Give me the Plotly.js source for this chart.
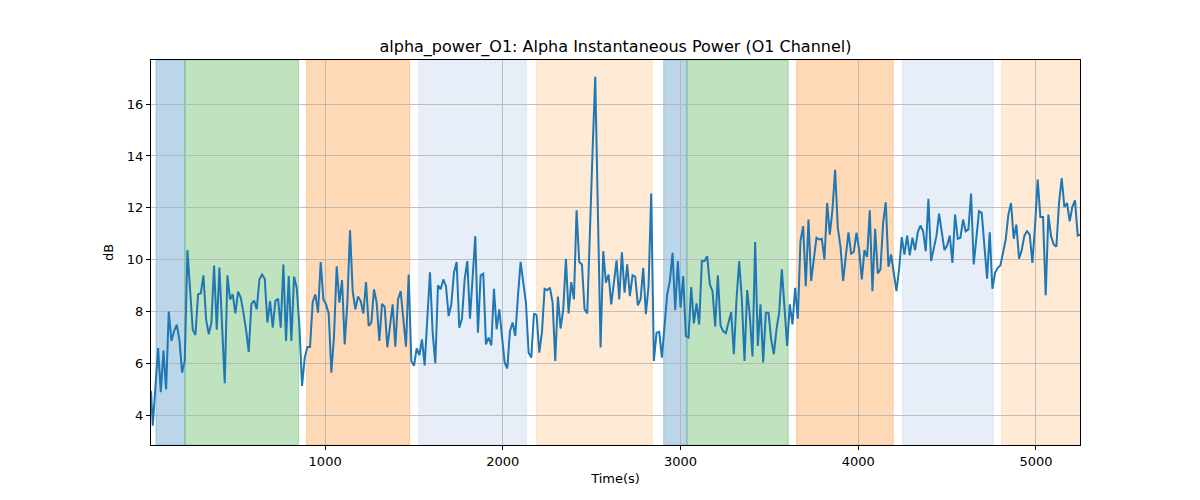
<!DOCTYPE html>
<html>
<head>
<meta charset="utf-8">
<script src="https://cdn.plot.ly/plotly-3.0.1.min.js"></script>
<style>body{margin:0;background:#fff}#chart{width:1200px;height:500px}</style>
</head>
<body>
<div id="chart"></div>
<script>
const timeSec = [20,30,45,60,75,90,105,120,135,150,165,180,195,210,225,240,255,270,285,300,315,330,345,360,375,390,405,420,435,450,465,480,495,510,525,540,555,570,585,600,615,630,645,660,675,690,705,720,735,750,765,780,795,810,825,840,855,870,885,900,915,930,945,960,975,990,1005,1020,1035,1050,1065,1080,1095,1110,1125,1140,1155,1170,1185,1200,1215,1230,1245,1260,1275,1290,1305,1320,1335,1350,1365,1380,1395,1410,1425,1440,1455,1470,1485,1500,1515,1530,1545,1560,1575,1590,1605,1620,1635,1650,1665,1680,1695,1710,1725,1740,1755,1770,1785,1800,1815,1830,1845,1860,1875,1890,1905,1920,1935,1950,1965,1980,1995,2010,2025,2040,2055,2070,2085,2100,2115,2130,2145,2160,2175,2190,2205,2220,2235,2250,2265,2280,2295,2310,2325,2340,2355,2370,2385,2400,2415,2430,2445,2460,2475,2490,2505,2520,2535,2550,2565,2580,2595,2610,2625,2640,2655,2670,2685,2700,2715,2730,2745,2760,2775,2790,2805,2820,2835,2850,2865,2880,2895,2910,2925,2940,2955,2970,2985,3000,3015,3030,3045,3060,3075,3090,3105,3120,3135,3150,3165,3180,3195,3210,3225,3240,3255,3270,3285,3300,3315,3330,3345,3360,3375,3390,3405,3420,3435,3450,3465,3480,3495,3510,3525,3540,3555,3570,3585,3600,3615,3630,3645,3660,3675,3690,3705,3720,3735,3750,3765,3780,3795,3810,3825,3840,3855,3870,3885,3900,3915,3930,3945,3960,3975,3990,4005,4020,4035,4050,4065,4080,4095,4110,4125,4140,4155,4170,4185,4200,4215,4230,4245,4260,4275,4290,4305,4320,4335,4350,4365,4380,4395,4410,4425,4440,4455,4470,4485,4500,4515,4530,4545,4560,4575,4590,4605,4620,4635,4650,4665,4680,4695,4710,4725,4740,4755,4770,4785,4800,4815,4830,4845,4860,4875,4890,4905,4920,4935,4950,4965,4980,4995,5010,5025,5040,5055,5070,5085,5100,5115,5130,5145,5160,5175,5190,5205,5220,5235,5250];

const alphaPowerDb = [4.95,3.6,5.1,6.6,4.9,6.5,5.0,8.0,6.87,7.25,7.5,6.9,5.65,6.1,10.37,8.86,7.3,7.1,8.67,8.7,9.4,7.7,7.13,7.58,9.78,7.3,9.7,7.45,5.24,9.4,8.47,8.67,7.93,8.77,8.54,7.96,7.3,6.45,8.3,8.43,8.09,9.24,9.43,9.27,
7.58,8.41,7.38,8.41,8.5,7.38,9.82,6.87,9.37,6.87,9.35,8.92,7.45,5.14,6.23,6.64,6.64,8.37,8.67,7.96,9.91,8.47,8.28,7.93,5.65,7.06,9.75,8.35,9.22,6.74,8.35,11.14,8.79,8.09,8.58,8.41,7.93,9.14,7.45,7.58,8.86,8.35,6.87,8.3,
8.19,6.62,7.45,8.28,6.65,8.47,8.79,7.7,6.65,9.43,6.1,5.91,6.58,6.32,6.93,5.93,7.58,9.52,7.19,6.01,9.02,8.86,9.24,8.98,7.83,8.28,9.5,9.91,7.38,7.73,9.24,9.95,7.73,9.5,10.91,7.19,9.4,9.46,6.74,7.0,6.7,8.88,7.32,8.09,
7.19,6.04,5.81,7.25,7.58,7.06,8.6,9.92,9.12,8.35,6.42,6.23,7.93,7.86,6.42,7.19,8.88,8.83,8.92,8.35,6.1,8.58,7.35,8.09,10.04,7.93,9.14,8.47,11.91,9.91,9.82,8.09,7.93,11.3,14.2,17.05,11.6,6.62,10.33,9.12,9.43,8.28,9.12,9.98,
8.47,10.29,8.73,9.82,8.6,9.4,9.35,8.24,8.47,9.69,7.9,8.98,12.55,6.1,7.19,7.22,6.23,7.45,8.67,9.18,10.27,8.06,9.95,8.15,9.37,7.06,7.0,8.95,7.55,8.32,7.51,9.95,9.95,10.14,9.05,8.79,7.42,9.4,7.47,7.25,7.17,7.58,7.98,6.36,
8.47,9.95,8.47,6.1,8.83,7.83,6.27,10.68,6.68,8.28,6.04,7.96,7.96,6.93,6.36,7.32,7.96,9.63,8.09,6.68,8.28,7.51,8.92,7.73,10.72,11.29,8.98,11.55,9.18,10.14,10.85,10.78,10.81,10.01,12.19,10.97,11.93,13.47,11.23,10.52,9.18,10.14,11.06,
10.24,10.3,11.04,10.4,9.24,10.37,10.11,11.91,8.79,11.19,9.47,9.63,11.42,12.22,9.73,10.2,9.5,8.79,9.63,10.87,10.2,10.93,10.17,10.85,10.37,11.06,11.32,11.1,10.33,12.35,9.95,10.42,10.91,11.78,11.14,10.37,10.55,10.93,9.88,11.74,10.81,10.85,11.55,11.1,
11.17,12.55,9.82,10.97,11.87,11.81,10.46,9.27,11.06,8.88,9.5,9.69,9.78,10.24,10.78,11.74,12.19,10.81,11.36,10.04,10.37,10.93,11.1,10.97,9.88,11.3,13.09,11.65,11.65,8.63,11.74,10.91,10.59,10.5,12.19,13.15,12.04,12.19,11.48,12.04,12.29,10.93,10.97];

const spanStart = [48, 211, 895, 1527, 2189, 2905, 3036, 3653, 4249, 4806];
const spanEnd   = [211, 850, 1476, 2133, 2841, 3036, 3606, 4197, 4759, 5250];
const spanColor = ['rgba(31,119,180,0.3)','rgba(44,160,44,0.3)','rgba(255,127,14,0.3)','rgba(174,199,232,0.3)','rgba(255,187,120,0.3)',
                   'rgba(31,119,180,0.3)','rgba(44,160,44,0.3)','rgba(255,127,14,0.3)','rgba(174,199,232,0.3)','rgba(255,187,120,0.3)'];

const xTicks = [1000, 2000, 3000, 4000, 5000];
const yTicks = [4, 6, 8, 10, 12, 14, 16];

const shapes = spanStart.map((s, i) => ({
  type: 'rect', xref: 'x', yref: 'paper', x0: s, x1: spanEnd[i], y0: 0, y1: 1,
  fillcolor: spanColor[i], line: {color: spanColor[i], width: 1}, layer: 'below'
}));

const trace = {
  x: timeSec, y: alphaPowerDb, type: 'scatter', mode: 'lines',
  line: {color: '#1f77b4', width: 2}, hoverinfo: 'skip'
};

const font = {family: 'DejaVu Sans, sans-serif', color: '#000'};
const layout = {
  width: 1200, height: 500,
  margin: {l: 151, r: 120, t: 60, b: 55},
  paper_bgcolor: '#fff', plot_bgcolor: '#fff',
  showlegend: false,
  font: Object.assign({size: 13}, font),
  title: {text: 'alpha_power_O1: Alpha Instantaneous Power (O1 Channel)', font: Object.assign({size: 16}, font),
          x: 0.5, xanchor: 'center', y: 1 - 46/500, yanchor: 'middle', xref: 'paper'},
  xaxis: {
    range: [20, 5248], tickvals: xTicks, ticktext: xTicks.map(String),
    showgrid: true, gridcolor: '#b0b0b0', gridwidth: 0.8,
    showline: true, linecolor: '#000', linewidth: 1, mirror: true,
    ticks: 'outside', ticklen: 4, tickcolor: '#000', zeroline: false,
    tickfont: Object.assign({size: 13}, font),
    title: {text: 'Time(s)', font: Object.assign({size: 13}, font), standoff: 6}
  },
  yaxis: {
    range: [2.86, 17.70], tickvals: yTicks, ticktext: yTicks.map(String),
    showgrid: true, gridcolor: '#b0b0b0', gridwidth: 0.8,
    showline: true, linecolor: '#000', linewidth: 1, mirror: true,
    ticks: 'outside', ticklen: 4, tickcolor: '#000', zeroline: false,
    tickfont: Object.assign({size: 13}, font),
    title: {text: 'dB', font: Object.assign({size: 13}, font), standoff: 10}
  },
  shapes: shapes
};

Plotly.newPlot('chart', [trace], layout, {displayModeBar: false, staticPlot: true});
</script>
</body>
</html>
